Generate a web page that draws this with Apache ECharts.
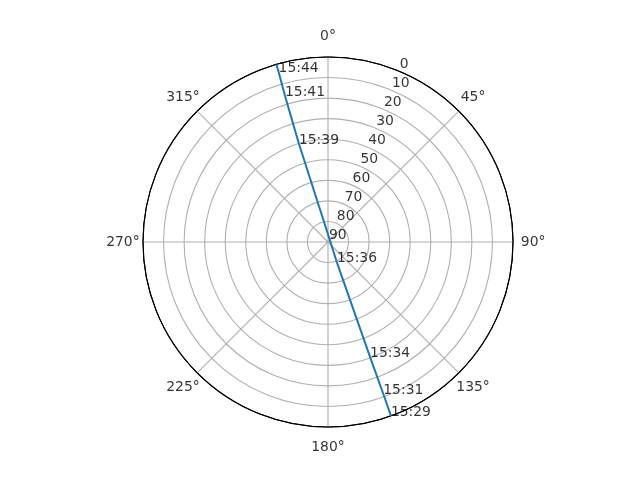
<!DOCTYPE html>
<html><head><meta charset="utf-8">
<script src="https://cdn.jsdelivr.net/npm/echarts@6/dist/echarts.min.js"></script>
<style>html,body{margin:0;padding:0;background:#fff}#c{width:640px;height:480px}</style>
</head><body><div id="c"></div>
<script>
// satellite track (azimuth deg, elevation deg)
const trackAz = [160.1, 160.0, 159.9, 156.6, 90.0, 343.5, 343.6, 343.8, 343.8];
const trackEl = [0, 11.3, 30.4, 78.9, 88.8, 40.3, 16.0, 3.9, 0];
// time annotations
const timeLabels = ['15:29', '15:31', '15:34', '15:36', '15:39', '15:41', '15:44'];
const timeAz = [160.1, 160.0, 159.9, 156.6, 343.5, 343.6, 343.8];
const timeEl = [0, 11.3, 30.4, 78.9, 40.3, 16.0, 3.9];
// ticks
const angleTicks = [0, 45, 90, 135, 180, 225, 270, 315];
const radiusTicks = [0, 10, 20, 30, 40, 50, 60, 70, 80, 90];
const radiusLabelAngle = 22.5;

const FONT = 'DejaVu Sans';
const FS = 13.9;
const chart = echarts.init(document.getElementById('c'), null, {renderer: 'canvas'});
const gridColors = radiusTicks.map((v, i) => i === 0 ? '#000000' : '#b0b0b0');

chart.setOption({
  animation: false,
  backgroundColor: '#ffffff',
  polar: {center: [328, 242], radius: 185},
  angleAxis: {
    type: 'value', min: 0, max: 360, interval: 45,
    startAngle: 90, clockwise: true,
    axisLine: {show: true, lineStyle: {color: '#000000', width: 1.1}},
    axisTick: {show: false},
    axisLabel: {show: false},
    splitLine: {show: true, lineStyle: {color: '#b0b0b0', width: 1.1}}
  },
  radiusAxis: {
    type: 'value', min: 0, max: 90, interval: 10, inverse: true,
    axisLine: {show: false},
    axisTick: {show: false},
    axisLabel: {show: false},
    splitLine: {show: true, lineStyle: {color: gridColors, width: 1.1}}
  },
  series: [
    {
      type: 'line', coordinateSystem: 'polar', clip: false, z: 3,
      showSymbol: false, symbol: 'none',
      lineStyle: {color: '#1f77b4', width: 2},
      data: trackEl.map((e, i) => [e, trackAz[i]])
    },
    {
      type: 'scatter', coordinateSystem: 'polar', clip: false, z: 4,
      symbolSize: 0.1, itemStyle: {color: 'rgba(0,0,0,0)'},
      label: {show: true, formatter: '{b}', position: [0, 0], align: 'left', verticalAlign: 'bottom',
        offset: [0, 3], color: '#000', fontFamily: FONT, fontSize: FS},
      data: timeLabels.map((t, i) => ({name: t, value: [timeEl[i], timeAz[i]]}))
    },
    {
      type: 'scatter', coordinateSystem: 'polar', clip: false, z: 4,
      symbolSize: 0.1, itemStyle: {color: 'rgba(0,0,0,0)'},
      label: {show: true, formatter: '{b}', position: [0, 0], align: 'left', verticalAlign: 'bottom',
        offset: [1, 0], color: '#000', fontFamily: FONT, fontSize: FS},
      data: radiusTicks.map(v => ({name: String(v), value: [v, radiusLabelAngle]}))
    },
    {
      type: 'scatter', coordinateSystem: 'polar', clip: false, z: 4,
      symbolSize: 0.1, itemStyle: {color: 'rgba(0,0,0,0)'},
      label: {show: true, formatter: '{b}', position: 'inside', align: 'center', verticalAlign: 'middle',
        color: '#000', fontFamily: FONT, fontSize: FS},
      data: angleTicks.map(a => ({name: a + '°', value: [-9.8, a]}))
    }
  ]
});
</script>
</body></html>
